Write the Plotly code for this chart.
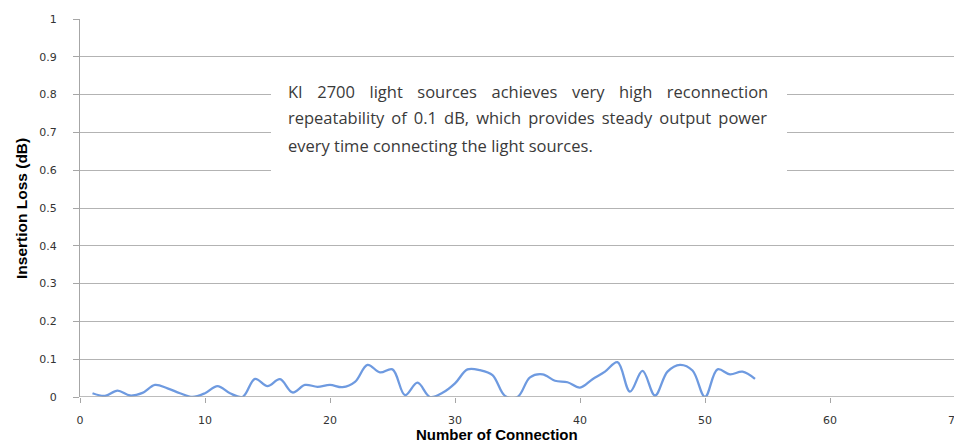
import plotly.graph_objects as go

connections = list(range(1, 55))
insertion_loss = [
    0.010, 0.003, 0.017, 0.004, 0.011, 0.032, 0.023, 0.010, 0.000, 0.010,
    0.029, 0.010, 0.000, 0.048, 0.029, 0.047, 0.012, 0.032, 0.027, 0.032,
    0.026, 0.040, 0.085, 0.065, 0.073, 0.005, 0.038, 0.000, 0.011, 0.036,
    0.073, 0.071, 0.058, 0.003, 0.000, 0.052, 0.060, 0.043, 0.039, 0.025,
    0.047, 0.067, 0.092, 0.014, 0.069, 0.004, 0.067, 0.085, 0.070, 0.000,
    0.073, 0.060, 0.067, 0.048,
]
x_ticks = [0, 10, 20, 30, 40, 50, 60, 70]
y_ticks = [0, 0.1, 0.2, 0.3, 0.4, 0.5, 0.6, 0.7, 0.8, 0.9, 1]
y_tick_labels = ["0", "0.1", "0.2", "0.3", "0.4", "0.5", "0.6", "0.7", "0.8", "0.9", "1"]

note_lines = [
    "KI 2700 light sources achieves very high reconnection",
    "repeatability of 0.1 dB, which provides steady output power",
    "every time connecting the light sources.",
]

# page body has an 8px margin: offsets below are relative to that
OFF = 8
W, H = 962 - OFF, 444 - OFF
ML, MT = 80 - OFF, 19 - OFF
PW, PH = 875, 378
MR = W - ML - PW
MB = H - MT - PH

def px_to_paper_x(px):
    return (px - OFF - ML) / PW

def px_to_paper_y(py):
    return (H - MB - (py - OFF)) / PH

fig = go.Figure()
fig.add_trace(go.Scatter(
    x=connections, y=insertion_loss, mode="lines",
    line=dict(color="#6e9ae0", width=2.3, shape="spline", smoothing=1.0),
    showlegend=False, hoverinfo="skip",
))

tick_font = dict(family="DejaVu Sans", size=11, color="#333333")
title_font = dict(family="Liberation Sans", size=15.5, color="#000000")

fig.update_layout(
    width=W, height=H,
    margin=dict(l=ML, r=MR, t=MT, b=MB),
    paper_bgcolor="white", plot_bgcolor="white",
    xaxis=dict(
        range=[0, 70], tickvals=x_ticks, ticks="outside", ticklen=5,
        tickcolor="#a6a6a6", showgrid=False, zeroline=False,
        showline=False, tickfont=tick_font, ticklabelstandoff=8,
        automargin=False,
    ),
    yaxis=dict(
        range=[0, 1], tickvals=y_ticks, ticktext=y_tick_labels,
        ticks="outside", ticklen=6, tickcolor="#a6a6a6",
        showgrid=True, gridcolor="#b3b3b3", gridwidth=1,
        zeroline=False, showline=True, linecolor="#a6a6a6", linewidth=1,
        tickfont=tick_font, ticklabelstandoff=14, automargin=False,
    ),
    shapes=[
        dict(type="line", xref="x", yref="y", x0=0, x1=70, y0=0, y1=0,
             line=dict(color="#a6a6a6", width=1.3), layer="above"),
        dict(type="rect", xref="paper", yref="paper",
             x0=px_to_paper_x(271), x1=px_to_paper_x(787),
             y0=px_to_paper_y(180), y1=px_to_paper_y(78),
             fillcolor="white", line=dict(width=0), layer="above"),
    ],
)

# axis titles
fig.add_annotation(
    xref="paper", yref="paper", x=px_to_paper_x(497), y=px_to_paper_y(444),
    xanchor="center", yanchor="bottom", showarrow=False, borderpad=0,
    text="<b>Number of Connection</b>",
    font=dict(family="Liberation Sans", size=15, color="#000000"),
)
fig.add_annotation(
    xref="paper", yref="paper", x=px_to_paper_x(21), y=px_to_paper_y(208),
    xanchor="center", yanchor="middle", showarrow=False, textangle=-90,
    text="<b>Insertion Loss (dB)</b>", font=title_font,
)

NB = "\u00a0"
def justify(line, gap):
    return gap.join(line.split(" "))

justified = [
    justify(note_lines[0], " " + NB * 2 + "\u200a"),
    justify(note_lines[1], " " + "\u2009"),
    note_lines[2],
]
line_y = [91, 118, 145]
for txt, yy in zip(justified, line_y):
    fig.add_annotation(
        xref="paper", yref="paper", x=px_to_paper_x(286), y=px_to_paper_y(yy),
        xanchor="left", yanchor="middle", showarrow=False, text=txt,
        font=dict(family="Open Sans", size=16.5, color="#3a3a3a"),
    )

fig.write_html("out.html")
